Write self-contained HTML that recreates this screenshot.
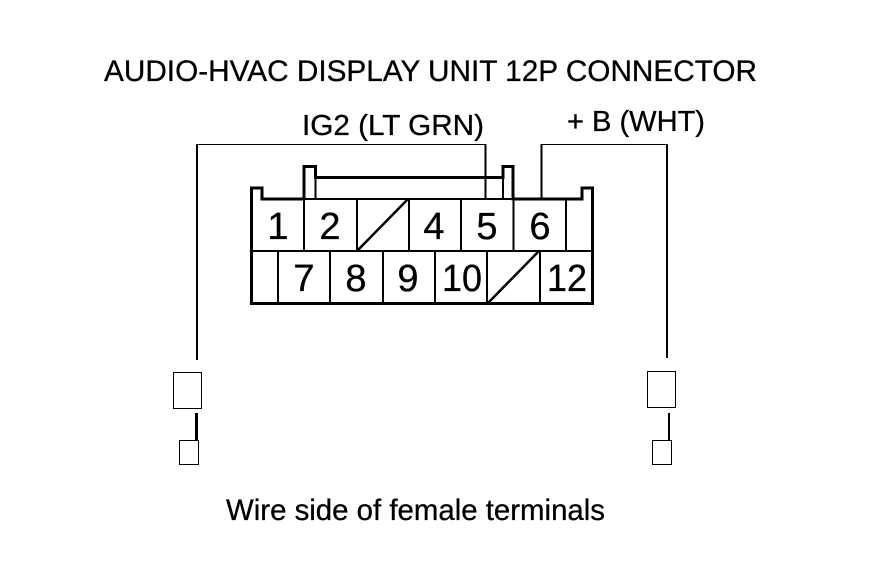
<!DOCTYPE html>
<html>
<head>
<meta charset="utf-8">
<style>
html,body{margin:0;padding:0;background:#fff}
svg{display:block}
text{font-family:"Liberation Sans",sans-serif;fill:#000;stroke:#000;stroke-width:.3px}
</style>
</head>
<body>
<svg width="880" height="580" viewBox="0 0 880 580" xmlns="http://www.w3.org/2000/svg">
<rect width="880" height="580" fill="#fff"/>
<text x="104" y="81" font-size="30" textLength="653" lengthAdjust="spacingAndGlyphs">AUDIO-HVAC DISPLAY UNIT 12P CONNECTOR</text>
<text x="302" y="135" font-size="29" textLength="182" lengthAdjust="spacingAndGlyphs">IG2 (LT GRN)</text>
<text x="567" y="131" font-size="29" textLength="138" lengthAdjust="spacingAndGlyphs">+ B (WHT)</text>
<text x="226" y="520" font-size="30" textLength="379" lengthAdjust="spacingAndGlyphs">Wire side of female terminals</text>

<g fill="none" stroke="#000" stroke-linejoin="miter" shape-rendering="crispEdges">
<!-- wires -->
<path d="M196 144.5H486" stroke-width="1"/>
<path d="M197 144V360M485.5 144V199" stroke-width="2"/>
<path d="M541 144.5H668" stroke-width="1"/>
<path d="M541.5 144V199M667 144V358" stroke-width="2"/>

<!-- connector outline -->
<path d="M251.5 303.5V188H262V199H304V166.5H315.5V177.5H503V166.5H513V199H582V188H592.5V303.5Z" stroke-width="3"/>
<path d="M315.5 177V199M503 177V199" stroke-width="2"/>
<path d="M304 199H513" stroke-width="2"/>
<path d="M252 251H593" stroke-width="2"/>

<!-- top row dividers -->
<path d="M304 199V250M357 199V250M409 199V250M461 199V250M513.5 199V250M566 199V250" stroke-width="2"/>
<!-- bottom row dividers -->
<path d="M278 250V303M330 250V303M383 250V303M435 250V303M487 250V303M540 250V303" stroke-width="2"/>

<!-- terminals -->
<rect x="173.5" y="372.5" width="28" height="36" stroke-width="1"/>
<rect x="179.5" y="440.5" width="19" height="24" stroke-width="1"/>
<path d="M196.5 413V441" stroke-width="3"/>
<rect x="647.5" y="371.5" width="28" height="36" stroke-width="1"/>
<rect x="652.5" y="440.5" width="19" height="24" stroke-width="1"/>
<path d="M669 413V441" stroke-width="2"/>
</g>

<!-- blocked cavities -->
<path d="M358 250L408 199M488 303L539 251" fill="none" stroke="#000" stroke-width="2.5"/>

<g font-size="38" text-anchor="middle">
<text x="278" y="239">1</text>
<text x="330" y="239">2</text>
<text x="434" y="239">4</text>
<text x="487" y="239">5</text>
<text x="540" y="239">6</text>
<text x="304" y="291">7</text>
<text x="356" y="291">8</text>
<text x="408" y="291">9</text>
<text x="462" y="291" textLength="40" lengthAdjust="spacingAndGlyphs">10</text>
<text x="567" y="291" textLength="40" lengthAdjust="spacingAndGlyphs">12</text>
</g>
</svg>
</body>
</html>
